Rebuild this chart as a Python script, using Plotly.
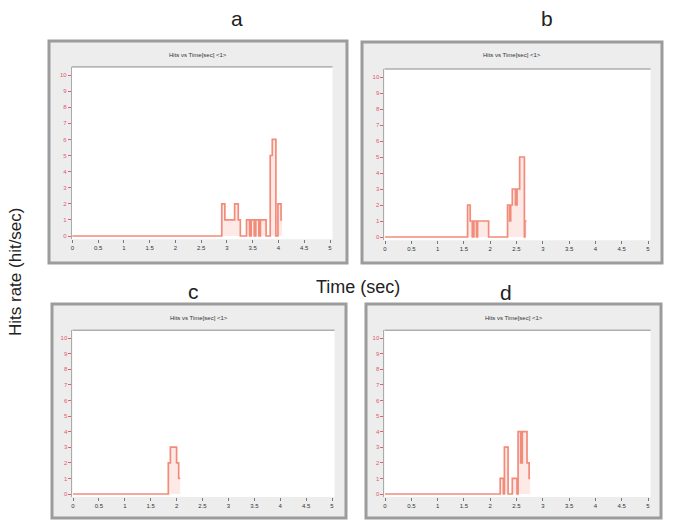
import plotly.graph_objects as go

W, H = 673, 523

# ---- data (time in sec, hits rate in hit/sec) ----
time_a = [0, 2.90, 2.96, 3.15, 3.22, 3.26, 3.38, 3.44, 3.47, 3.53, 3.56, 3.62, 3.65, 3.76, 3.84, 3.88, 3.95, 3.99, 4.05, 4.07]
hits_a = [0, 2, 1, 2, 1, 0, 1, 0, 1, 0, 1, 0, 1, 0, 5, 6, 0, 2, 1, 1]

time_b = [0, 1.57, 1.62, 1.66, 1.69, 1.74, 1.76, 1.97, 2.33, 2.37, 2.39, 2.42, 2.48, 2.51, 2.56, 2.65, 2.66, 2.69]
hits_b = [0, 2, 1, 0, 1, 0, 1, 0, 2, 1, 2, 3, 2, 3, 5, 0, 1, 1]

time_c = [0, 1.84, 1.88, 2.00, 2.04, 2.07]
hits_c = [0, 2, 3, 2, 1, 1]

time_d = [0, 2.19, 2.25, 2.27, 2.34, 2.42, 2.51, 2.53, 2.58, 2.61, 2.70, 2.74, 2.76]
hits_d = [0, 1, 0, 3, 0, 1, 0, 4, 2, 4, 2, 1, 1]

x_ticks = [0, 0.5, 1, 1.5, 2, 2.5, 3, 3.5, 4, 4.5, 5]
x_tick_labels = ["0", "0.5", "1", "1.5", "2", "2.5", "3", "3.5", "4", "4.5", "5"]
y_ticks = list(range(0, 11))
panel_letters = ["a", "b", "c", "d"]
panel_title = "Hits vs Time[sec] <1>"

# ---- layout geometry (pixels) ----
# (x of t=0, x of t=5, y of 0, y of 10)
maps = [(72.3, 330, 236, 75), (385, 648, 237, 77), (73, 332, 494, 338), (385, 648, 494, 338)]
frames = [(49, 41, 347, 263), (362, 42, 662, 263), (52, 304, 346, 518), (366, 304, 661, 518)]
title_y = [55, 55, 318, 318]
letter_pos = [(237, 18), (547, 18), (193, 291), (506, 292)]
XR = [-0.01, 5.05]
YR = [-0.2, 10.5]

series = [(time_a, hits_a), (time_b, hits_b), (time_c, hits_c), (time_d, hits_d)]

fig = go.Figure()
shapes = []
annotations = []
layout_axes = {}

for i, ((x0, x5, y0, y10), (t, h)) in enumerate(zip(maps, series)):
    sx = (x5 - x0) / 5.0
    sy = (y0 - y10) / 10.0
    left = x0 + XR[0] * sx
    right = x0 + XR[1] * sx
    top = y0 - YR[1] * sy
    bottom = y0 - YR[0] * sy
    n = "" if i == 0 else str(i + 1)
    xa = "x" + n
    ya = "y" + n
    fig.add_trace(go.Scatter(
        x=t, y=h, mode="lines", line=dict(shape="hv", color="#f28b7a", width=1.7),
        fill="tozeroy", fillcolor="rgba(248,175,160,0.28)",
        xaxis=xa, yaxis=ya, showlegend=False, hoverinfo="skip"))
    layout_axes["xaxis" + n] = dict(
        domain=[left / W, right / W], range=XR, anchor=ya,
        tickvals=x_ticks, ticktext=x_tick_labels, ticks="outside", ticklen=3,
        tickcolor="#777", tickfont=dict(size=6, color="#333", family="Liberation Sans"),
        showgrid=False, zeroline=False, showline=False, fixedrange=True)
    layout_axes["yaxis" + n] = dict(
        domain=[1 - bottom / H, 1 - top / H], range=YR, anchor=xa,
        tickvals=y_ticks, ticks="outside", ticklen=3, tickcolor="#e06070",
        tickfont=dict(size=6, color="#e05a6a", family="Liberation Sans"),
        showgrid=False, zeroline=False, showline=True, linecolor="#aaaaaa", linewidth=1,
        fixedrange=True)
    fx0, fy0, fx1, fy1 = frames[i]
    shapes.append(dict(type="rect", xref="paper", yref="paper", layer="below",
                       x0=fx0 / W, x1=fx1 / W, y0=1 - fy1 / H, y1=1 - fy0 / H,
                       fillcolor="#ededed", line=dict(color="#9c9c9c", width=3)))
    shapes.append(dict(type="rect", xref="paper", yref="paper", layer="below",
                       x0=left / W, x1=right / W, y0=1 - bottom / H, y1=1 - top / H,
                       fillcolor="white", line=dict(width=0)))
    shapes.append(dict(type="line", xref="paper", yref="paper", layer="below",
                       x0=left / W, x1=right / W, y0=1 - top / H, y1=1 - top / H,
                       line=dict(color="#8a8a8a", width=1)))
    annotations.append(dict(text=panel_title, xref="paper", yref="paper",
                            x=((fx0 + fx1) / 2) / W, y=1 - title_y[i] / H, showarrow=False,
                            xanchor="center", yanchor="middle",
                            font=dict(size=6, color="#333", family="Liberation Sans")))
    lx, ly = letter_pos[i]
    annotations.append(dict(text=panel_letters[i], xref="paper", yref="paper",
                            x=lx / W, y=1 - ly / H, showarrow=False,
                            xanchor="center", yanchor="middle",
                            font=dict(size=21, color="#222", family="Liberation Sans")))

annotations.append(dict(text="Time (sec)", xref="paper", yref="paper", x=358 / W, y=1 - 287 / H,
                        showarrow=False, xanchor="center", yanchor="middle",
                        font=dict(size=18, color="#222", family="Liberation Sans")))
annotations.append(dict(text="Hits rate (hit/sec)", xref="paper", yref="paper", x=15 / W, y=1 - 272 / H,
                        showarrow=False, textangle=-90, xanchor="center", yanchor="middle",
                        font=dict(size=17, color="#222", family="Liberation Sans")))

fig.update_layout(width=W, height=H, margin=dict(l=0, r=0, t=0, b=0),
                  paper_bgcolor="white", plot_bgcolor="rgba(0,0,0,0)",
                  shapes=shapes, annotations=annotations, showlegend=False, **layout_axes)

fig.write_html("out.html", config={"displayModeBar": False},
               post_script="document.body.style.margin='0px';")
